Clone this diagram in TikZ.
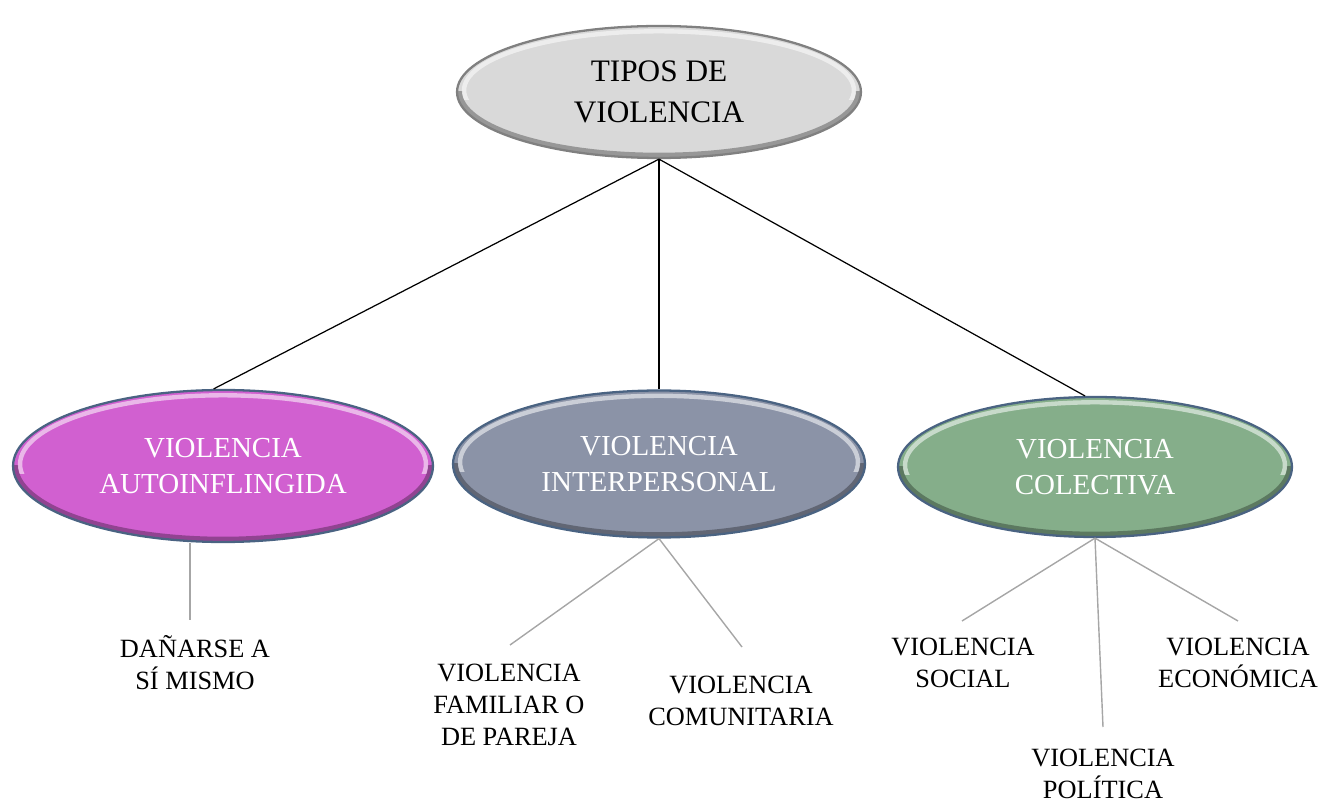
\documentclass[tikz,border=0pt]{standalone}
\usepackage{fontspec}
\setmainfont{Liberation Serif}
\usetikzlibrary{shapes.geometric,calc,fadings}

\definecolor{rosa}{HTML}{D160D0}
\definecolor{pizarra}{HTML}{8B93A7}
\definecolor{verde}{HTML}{85AE8A}
\definecolor{gris}{HTML}{D9D9D9}
\definecolor{borde}{HTML}{4A6382}
\definecolor{lineagris}{HTML}{A6A6A6}

\tikzset{
	elipse/.style={shape=ellipse, draw=borde, line width=1.3pt, inner sep=0pt,
		align=center, text=white, font=\fontsize{16.5}{20.5}\selectfont,
		path picture={
			\begin{scope}
				\clip (path picture bounding box.west) rectangle (path picture bounding box.south east);
				\path[draw=black, draw opacity=.3, line width=4pt]
					let \p1=(path picture bounding box.north east),
					\p2=(path picture bounding box.south west) in
					($(\p1)!.5!(\p2)$) ellipse [x radius={(\x1-\x2)/2-1pt}, y radius={(\y1-\y2)/2-1pt}];
			\end{scope}
			\begin{scope}
				\clip ([yshift=-4pt]path picture bounding box.west) rectangle (path picture bounding box.north east);
				\path[draw=white, draw opacity=.55, line width=2.5pt]
					let \p1=(path picture bounding box.north east),
					\p2=(path picture bounding box.south west) in
					($(\p1)!.5!(\p2)+(0,1pt)$) ellipse [x radius={(\x1-\x2)/2-4pt}, y radius={(\y1-\y2)/2-4pt}];
			\end{scope}
		}},
	etiqueta/.style={align=center, inner sep=0pt, font=\fontsize{15}{18.3}\selectfont},
	rama/.style={draw=black, line width=0.7pt},
	subrama/.style={draw=lineagris, line width=0.8pt}
}

\begin{document}
\begin{tikzpicture}[x=0.02cm, y=-0.02cm]
		\useasboundingbox (0, 0) rectangle (1322, 803);
		% main ellipses
		\node[elipse, fill=rosa, minimum width=8.4cm, minimum height=3.04cm] (T1) at (223, 466) {VIOLENCIA\\AUTOINFLINGIDA};
		\node[elipse, fill=pizarra, minimum width=8.24cm, minimum height=2.94cm] (T2) at (659, 464) {VIOLENCIA\\INTERPERSONAL};
		\node[elipse, fill=verde, minimum width=7.88cm, minimum height=2.8cm] (T3) at (1095, 467) {VIOLENCIA\\COLECTIVA};
		\node[elipse, fill=gris, draw=gray, text=black, font=\fontsize{17.8}{23.2}\selectfont,
			minimum width=8.08cm, minimum height=2.64cm] (T0) at (659, 92) {TIPOS DE\\VIOLENCIA};
		% main connections
		\draw[rama] (T0.south) -- (T1.97);
		\draw[rama] (T0.south) -- (T2.north);
		\draw[rama] (T0.south) -- (T3.98);
		% leaf labels
		\node[etiqueta] (L1) at (195, 663) {DAÑARSE A\\SÍ MISMO};
		\node[etiqueta] (L2) at (509, 705) {VIOLENCIA\\FAMILIAR O\\DE PAREJA};
		\node[etiqueta] (L3) at (741, 701) {VIOLENCIA\\COMUNITARIA};
		\node[etiqueta] (L4) at (963, 663) {VIOLENCIA\\SOCIAL};
		\node[etiqueta] (L5) at (1103, 774) {VIOLENCIA\\POLÍTICA};
		\node[etiqueta] (L6) at (1238, 663) {VIOLENCIA\\ECONÓMICA};
		% free ends of the gray lines
		\coordinate (E1) at (190, 620);
		\coordinate (E2) at (510, 645);
		\coordinate (E3) at (742, 647);
		\coordinate (E4) at (962, 621);
		\coordinate (E5) at (1103, 727);
		\coordinate (E6) at (1238, 621);
		% gray connections
		\draw[subrama] (T1.south -| E1) -- (E1);
		\draw[subrama] (T2.south) -- (E2);
		\draw[subrama] (T2.south) -- (E3);
		\draw[subrama] (T3.south) -- (E4);
		\draw[subrama] (T3.south) -- (E5);
		\draw[subrama] (T3.south) -- (E6);
	\end{tikzpicture}
\end{document}
